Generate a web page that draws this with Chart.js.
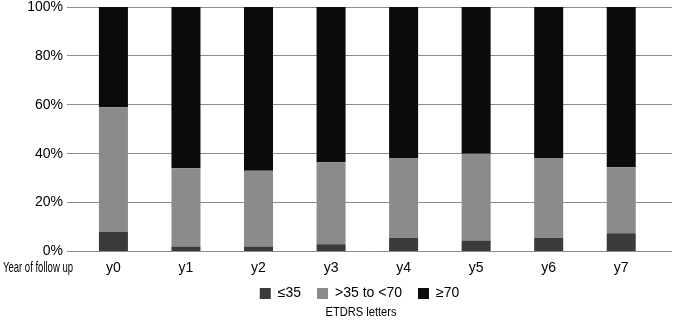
<!DOCTYPE html>
<html>
<head>
<meta charset="utf-8">
<script src="https://cdn.jsdelivr.net/npm/chart.js@4"></script>
<style>
  html, body { margin: 0; padding: 0; background: #fff; }
  #wrap { width: 675px; height: 320px; position: relative; }
</style>
</head>
<body>
<div id="wrap"><canvas id="chart"></canvas></div>
<script>
// datos (porcentaje por año)
const years = ['y0', 'y1', 'y2', 'y3', 'y4', 'y5', 'y6', 'y7'];
const seriesNames = ['≤35', '>35 to <70', '≥70'];
const low = [8, 2, 2, 3, 5.5, 4.5, 5.5, 7.5];
const mid = [51, 32, 31, 33.5, 32.5, 35.5, 32.5, 27];
const high = [41, 66, 67, 63.5, 62, 60, 62, 65.5];
const colors = ['#3b3b3b', '#8b8b8b', '#0b0b0b'];
const yTicks = [0, 20, 40, 60, 80, 100];

const FONT = "'Liberation Sans', Arial, sans-serif";
const TICK_PAD = 8;

function toPoints(arr) {
    return arr.map((v, i) => ({ x: i, y: v }));
}

// textos extra: "Year of follow up" junto a las etiquetas y el título de la leyenda debajo
const extraText = {
    id: 'extraText',
    beforeDraw(chart) {
        // que las etiquetas del eje x no se recorten y la leyenda quede algo a la izquierda
        chart.scales.x.bottom = chart.height;
        chart.legend.left -= 10;
        chart.legend.right -= 10;
    },
    afterDraw(chart) {
        const ctx = chart.ctx;
        const sx = chart.scales.x;
        const lg = chart.legend;
        ctx.save();
        ctx.fillStyle = '#000';
        ctx.textBaseline = 'middle';
        ctx.font = '14px ' + FONT;
        ctx.textAlign = 'left';
        ctx.fillText('Year of follow up', 3, sx.top + TICK_PAD + 8.4, 70);
        ctx.font = '13px ' + FONT;
        ctx.textAlign = 'center';
        ctx.fillText('ETDRS letters', 361, lg.bottom + 2, 71);
        ctx.restore();
    }
};

new Chart(document.getElementById('chart'), {
    type: 'bar',
    data: {
        datasets: [
            { label: seriesNames[0], data: toPoints(low), backgroundColor: colors[0] },
            { label: seriesNames[1], data: toPoints(mid), backgroundColor: colors[1] },
            { label: seriesNames[2], data: toPoints(high), backgroundColor: colors[2] }
        ]
    },
    options: {
        responsive: true,
        maintainAspectRatio: false,
        animation: false,
        events: [],
        barPercentage: 0.4,
        categoryPercentage: 1,
        layout: { padding: { left: 0, right: 3, top: 7, bottom: 9.5 } },
        scales: {
            x: {
                type: 'linear',
                stacked: true,
                offset: false,
                min: -0.64,
                max: 7.7,
                grid: { display: false, offset: false, drawTicks: false },
                border: { display: false },
                afterBuildTicks: s => { s.ticks = years.map((c, i) => ({ value: i })); },
                afterFit: s => { s.height = 19; },
                ticks: {
                    autoSkip: false,
                    maxRotation: 0,
                    padding: TICK_PAD,
                    color: '#000',
                    font: { family: FONT, size: 14 },
                    callback: v => years[v] || ''
                }
            },
            y: {
                stacked: true,
                min: 0,
                max: 100,
                afterBuildTicks: s => { s.ticks = yTicks.map(v => ({ value: v })); },
                afterFit: s => { s.width = 67; s.paddingTop = 0; s.paddingBottom = 0; },
                grid: { color: '#8c8c8c', lineWidth: 1, drawTicks: false },
                border: { display: false },
                ticks: {
                    padding: 4,
                    color: '#000',
                    font: { family: FONT, size: 14 },
                    callback: v => v + '%'
                }
            }
        },
        plugins: {
            legend: {
                position: 'bottom',
                fullSize: false,
                labels: {
                    boxWidth: 11,
                    boxHeight: 11,
                    padding: 16,
                    color: '#000',
                    font: { family: FONT, size: 14 }
                }
            },
            tooltip: { enabled: false }
        }
    },
    plugins: [extraText]
});
</script>
</body>
</html>
